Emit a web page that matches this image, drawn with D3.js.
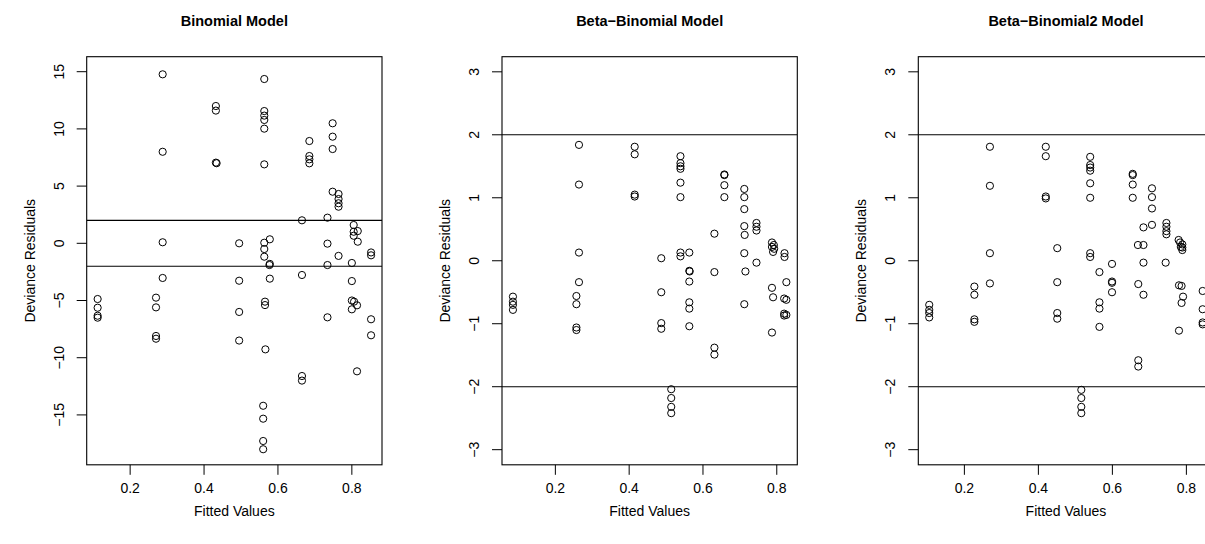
<!DOCTYPE html>
<html><head><meta charset="utf-8">
<script src="https://cdn.jsdelivr.net/npm/d3@7"></script>
<style>
body{margin:0;background:#fff}
svg{display:block}
text{font-family:"Liberation Sans",Arial,Helvetica,sans-serif;fill:#000}
</style>
</head><body>
<svg id="c" width="1205" height="544"></svg>
<script>
// ---------------- data ----------------
const panelTitles = ["Binomial Model", "Beta\u2212Binomial Model", "Beta\u2212Binomial2 Model"];
const xLabel = "Fitted Values";
const yLabel = "Deviance Residuals";
const xTicks = [0.2, 0.4, 0.6, 0.8];
const yTicksBinomial = [-15, -10, -5, 0, 5, 10, 15];
const yTicksBeta = [-3, -2, -1, 0, 1, 2, 3];
const refLines = [-2, 2];

const binomFitted = [0.288,0.432,0.432,0.288,0.432,0.434,0.288,0.495,
  0.112,0.112,0.112,0.112,0.270,0.270,0.270,0.270,0.288,0.495,0.495,0.495,
  0.563,0.563,0.563,0.563,0.563,0.563,0.685,0.685,0.685,0.685,0.748,0.748,0.748,0.748,
  0.764,0.764,0.764,0.764,0.665,0.734,0.805,0.805,0.816,0.805,0.816,0.852,0.852,
  0.563,0.563,0.578,0.563,0.734,0.764,
  0.578,0.577,0.734,0.800,0.578,0.665,0.800,0.565,0.565,0.734,0.800,0.806,0.800,0.814,
  0.852,0.852,0.566,0.665,0.665,0.814,0.560,0.560,0.560,0.560];
const binomResid = [14.77,12.0,11.6,8.0,7.05,7.0,0.09,0.0,
  -4.87,-5.63,-6.33,-6.5,-4.75,-5.6,-8.1,-8.34,-3.03,-3.27,-6.0,-8.5,
  14.36,11.56,11.16,10.78,10.02,6.9,8.94,7.63,7.34,6.99,10.49,9.32,8.24,4.51,
  4.31,3.87,3.5,3.2,2.01,2.24,1.6,1.01,1.07,0.66,0.14,-0.8,-1.05,
  0.05,-0.5,0.35,-1.17,-0.03,-1.1,
  -1.8,-1.9,-1.9,-1.72,-3.09,-2.77,-3.3,-5.1,-5.4,-6.47,-5.0,-5.1,-5.77,-5.42,
  -6.64,-8.04,-9.27,-11.6,-12.0,-11.19,-14.2,-15.33,-17.28,-18.0];

const bbFitted = [0.264,0.415,0.415,0.264,0.415,0.415,0.264,
  0.264,0.257,0.257,0.257,0.257,0.085,0.085,0.085,0.085,
  0.539,0.539,0.539,0.539,0.539,0.539,0.658,0.658,0.658,0.658,
  0.712,0.712,0.712,0.712,0.713,0.745,0.745,0.745,0.631,
  0.787,0.792,0.793,0.787,0.821,0.821,0.487,0.539,0.563,0.539,0.712,0.745,0.790,
  0.563,0.564,0.563,0.631,0.715,0.487,0.563,0.563,0.563,0.487,0.487,0.712,
  0.631,0.631,0.787,0.790,0.826,0.820,0.826,0.820,0.826,0.820,0.787,
  0.514,0.514,0.514,0.514];
const bbResid = [1.84,1.81,1.69,1.21,1.05,1.02,0.13,
  -0.34,-0.56,-0.69,-1.06,-1.1,-0.57,-0.65,-0.70,-0.78,
  1.66,1.55,1.50,1.46,1.24,1.01,1.37,1.36,1.2,1.01,
  1.14,1.01,0.82,0.55,0.41,0.6,0.54,0.48,0.43,
  0.29,0.25,0.19,0.22,0.12,0.06,0.04,0.13,0.13,0.07,0.12,-0.03,0.14,
  -0.16,-0.17,-0.33,-0.18,-0.17,-0.5,-0.66,-0.76,-1.04,-0.99,-1.08,-0.69,
  -1.38,-1.49,-0.43,-0.58,-0.34,-0.6,-0.62,-0.84,-0.86,-0.87,-1.14,
  -2.04,-2.18,-2.32,-2.42];

const bb2Fitted = [0.269,0.269,0.269,0.420,0.420,0.420,0.420,
  0.540,0.540,0.540,0.540,0.540,0.540,0.655,0.655,0.655,0.655,
  0.707,0.707,0.707,0.707,0.684,0.746,0.746,0.746,0.746,0.451,0.669,0.684,
  0.779,0.783,0.789,0.789,0.789,0.785,0.540,0.540,0.684,0.744,0.451,0.565,
  0.599,0.599,0.599,0.599,0.670,0.684,0.565,0.565,0.565,0.451,0.451,0.670,0.670,
  0.780,0.787,0.791,0.787,0.780,0.844,0.844,0.844,0.844,
  0.516,0.516,0.516,0.516,0.269,0.227,0.227,0.227,0.227,0.105,0.105,0.105,0.105];
const bb2Resid = [1.81,1.19,0.12,1.81,1.66,1.02,0.99,
  1.65,1.52,1.48,1.43,1.23,1.0,1.38,1.36,1.21,1.0,
  1.15,1.01,0.83,0.57,0.53,0.6,0.54,0.47,0.42,0.2,0.25,0.25,
  0.33,0.29,0.26,0.21,0.17,0.22,0.12,0.06,-0.03,-0.03,-0.34,-0.18,
  -0.05,-0.33,-0.35,-0.5,-0.37,-0.54,-0.66,-0.76,-1.05,-0.83,-0.92,-1.58,-1.68,
  -0.39,-0.4,-0.57,-0.67,-1.11,-0.48,-0.77,-0.98,-1.01,
  -2.05,-2.18,-2.32,-2.42,-0.36,-0.41,-0.54,-0.93,-0.97,-0.70,-0.78,-0.83,-0.9];

// ---------------- layout ----------------
const panels = [
  {title: panelTitles[0], xs: binomFitted, ys: binomResid, yTicks: yTicksBinomial, yDomain: [-19.36, 16.31], left: 86.7},
  {title: panelTitles[1], xs: bbFitted, ys: bbResid, yTicks: yTicksBeta, yDomain: [-3.24, 3.24], left: 502},
  {title: panelTitles[2], xs: bb2Fitted, ys: bb2Resid, yTicks: yTicksBeta, yDomain: [-3.24, 3.24], left: 918.3}
];
const plotTop = 56.7, boxW = 295.3, boxH = 408.1;
const fmt = d => String(d).replace("-", "\u2212");

const svg = d3.select("#c");
svg.append("rect").attr("width", 1205).attr("height", 544).attr("fill", "#fff");

panels.forEach((p, i) => {
  const ext = d3.extent(p.xs);
  const pad = (ext[1] - ext[0]) * 0.04;
  const x = d3.scaleLinear().domain([ext[0] - pad, ext[1] + pad]).range([p.left, p.left + boxW]);
  const y = d3.scaleLinear().domain(p.yDomain).range([plotTop + boxH, plotTop]);
  const g = svg.append("g");
  const clipId = "clip" + i;
  svg.append("clipPath").attr("id", clipId).append("rect")
    .attr("x", p.left).attr("y", plotTop).attr("width", boxW).attr("height", boxH);

  // reference lines
  g.append("g").attr("clip-path", `url(#${clipId})`).selectAll("line").data(refLines).join("line")
    .attr("x1", p.left).attr("x2", p.left + boxW)
    .attr("y1", d => y(d)).attr("y2", d => y(d))
    .attr("stroke", "#000").attr("stroke-width", 1.1);

  // points
  g.selectAll("circle").data(p.xs.map((v, k) => [v, p.ys[k]])).join("circle")
    .attr("cx", d => x(d[0])).attr("cy", d => y(d[1])).attr("r", 3.6)
    .attr("fill", "none").attr("stroke", "#000").attr("stroke-width", 1);

  // box
  g.append("rect").attr("x", p.left).attr("y", plotTop).attr("width", boxW).attr("height", boxH)
    .attr("fill", "none").attr("stroke", "#000").attr("stroke-width", 1.1);

  // x axis
  const bottom = plotTop + boxH;
  g.selectAll(".xt").data(xTicks).join("line").attr("class", "xt")
    .attr("x1", d => x(d)).attr("x2", d => x(d)).attr("y1", bottom).attr("y2", bottom + 10)
    .attr("stroke", "#000").attr("stroke-width", 1);
  g.selectAll(".xl").data(xTicks).join("text").attr("class", "xl")
    .attr("x", d => x(d)).attr("y", bottom + 23).attr("dy", "0.35em")
    .attr("text-anchor", "middle").attr("font-size", 14).text(fmt);

  // y axis
  g.selectAll(".yt").data(p.yTicks).join("line").attr("class", "yt")
    .attr("x1", p.left - 10).attr("x2", p.left).attr("y1", d => y(d)).attr("y2", d => y(d))
    .attr("stroke", "#000").attr("stroke-width", 1);
  g.selectAll(".yl").data(p.yTicks).join("text").attr("class", "yl")
    .attr("transform", d => `translate(${p.left - 28},${y(d)}) rotate(-90)`)
    .attr("dy", "0.35em").attr("text-anchor", "middle").attr("font-size", 14).text(fmt);

  // titles
  const cx = p.left + boxW / 2;
  g.append("text").attr("x", cx).attr("y", bottom + 46).attr("dy", "0.35em")
    .attr("text-anchor", "middle").attr("font-size", 14).text(xLabel);
  g.append("text").attr("transform", `translate(${p.left - 57},${plotTop + boxH / 2}) rotate(-90)`)
    .attr("dy", "0.35em").attr("text-anchor", "middle").attr("font-size", 14).text(yLabel);
  g.append("text").attr("x", cx).attr("y", 21).attr("dy", "0.35em")
    .attr("text-anchor", "middle").attr("font-size", 14.5).attr("font-weight", "bold").text(p.title);
});
</script>
</body></html>
